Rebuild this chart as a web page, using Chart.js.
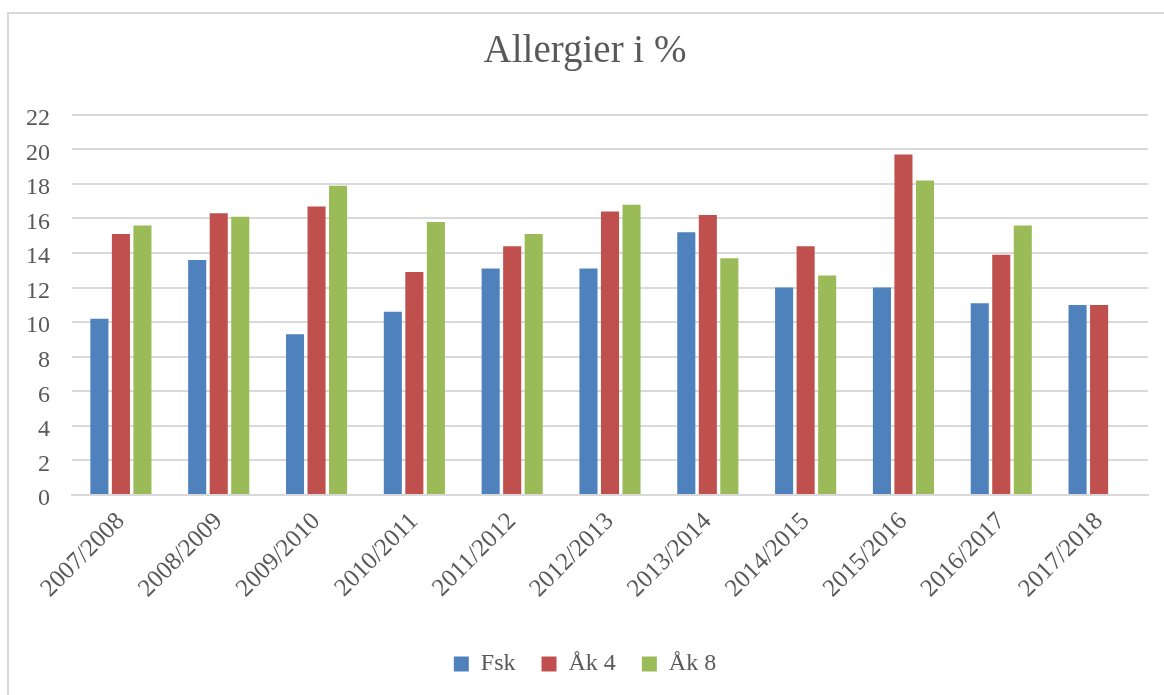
<!DOCTYPE html>
<html>
<head>
<meta charset="utf-8">
<script src="https://cdn.jsdelivr.net/npm/chart.js@4/dist/chart.umd.min.js"></script>
<style>
  html, body { margin: 0; padding: 0; background: #ffffff; }
  #wrap { position: relative; width: 1164px; height: 695px; overflow: hidden; }
  #frame { position: absolute; left: 7px; top: 12px; width: 1300px; height: 800px;
           border-top: 2px solid #d9d9d9; border-left: 2px solid #d9d9d9; }
  #c { position: absolute; left: 0; top: 0; }
</style>
</head>
<body>
<div id="wrap">
  <div id="frame"></div>
  <canvas id="c" width="1164" height="695"></canvas>
</div>
<script>
// School years
const years = ['2007/2008', '2008/2009', '2009/2010', '2010/2011', '2011/2012', '2012/2013',
               '2013/2014', '2014/2015', '2015/2016', '2016/2017', '2017/2018'];

// Share of pupils with allergies (%)
const fsk = [10.2, 13.6, 9.3, 10.6, 13.1, 13.1, 15.2, 12.0, 12.0, 11.1, 11.0];
const ak4 = [15.1, 16.3, 16.7, 12.9, 14.4, 16.4, 16.2, 14.4, 19.7, 13.9, 11.0];
const ak8 = [15.6, 16.1, 17.9, 15.8, 15.1, 16.8, 13.7, 12.7, 18.2, 15.6, null];

const seriesNames = ['Fsk', 'Åk 4', 'Åk 8'];
const yTicks = { min: 0, max: 22, step: 2 };

const FONT = "'Liberation Serif', 'DejaVu Serif', serif";
const TEXT = '#595959';
const GRID = '#d9d9d9';

const bar = (label, data, color) => ({
  label, data, backgroundColor: color, borderWidth: 0,
  barPercentage: 0.84, categoryPercentage: 0.66
});

new Chart(document.getElementById('c'), {
  type: 'bar',
  data: {
    labels: years,
    datasets: [
      bar(seriesNames[0], fsk, '#4f81bd'),
      bar(seriesNames[1], ak4, '#c0504d'),
      bar(seriesNames[2], ak8, '#9bbb59')
    ]
  },
  options: {
    responsive: false,
    animation: false,
    devicePixelRatio: 1,
    layout: { padding: { left: 22, right: 16, top: 0, bottom: 9 } },
    plugins: {
      title: {
        display: true,
        text: 'Allergier i %',
        color: TEXT,
        font: { family: FONT, size: 39, weight: 'normal', lineHeight: 1.2 },
        padding: { top: 28, bottom: 40 }
      },
      legend: {
        position: 'bottom',
        labels: {
          color: TEXT,
          font: { family: FONT, size: 24 },
          boxWidth: 15, boxHeight: 15,
          padding: 26
        }
      },
      tooltip: { enabled: false }
    },
    scales: {
      x: {
        grid: { display: false, drawTicks: false },
        border: { display: true, color: GRID, width: 2 },
        ticks: {
          color: TEXT, font: { family: FONT, size: 25 },
          minRotation: 45, maxRotation: 45, padding: 12, autoSkip: false
        },
        afterFit: (s) => { s.height = 131; }
      },
      y: {
        min: yTicks.min, max: yTicks.max,
        grid: { color: GRID, lineWidth: 2, drawTicks: false },
        border: { display: false },
        ticks: {
          stepSize: yTicks.step, color: TEXT,
          font: { family: FONT, size: 24 }, padding: 22, labelOffset: 4
        },
        afterFit: (s) => { s.width = 50; }
      }
    }
  }
});
</script>
</body>
</html>
